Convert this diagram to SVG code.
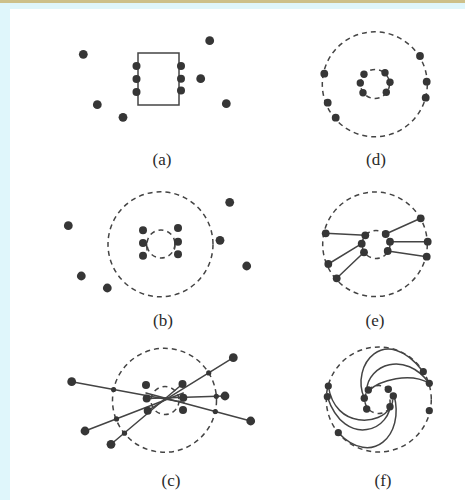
<svg xmlns="http://www.w3.org/2000/svg" width="465" height="500" viewBox="0 0 465 500">
<style>
.dash{fill:none;stroke:#444;stroke-width:1.5;stroke-dasharray:5 4}
.dot{fill:#363636}
.ln{fill:none;stroke:#444;stroke-width:1.5;stroke-linecap:round}
.lbl{font-family:"Liberation Serif","Times New Roman",serif;font-size:17px;fill:#2a2a2a;text-anchor:middle}
</style>
<rect x="0" y="0" width="465" height="500" fill="#dff6fb"/>
<rect x="0" y="0" width="465" height="3" fill="#cdc08a"/>
<rect x="10" y="9" width="455" height="491" fill="#ffffff"/>

<g id="panel-a">
  <rect x="138" y="53" width="41" height="52" fill="#fff" stroke="#444" stroke-width="1.5"/>
  <g id="a-pins" class="dot">
    <circle cx="136.5" cy="66" r="4"/><circle cx="136.5" cy="79" r="4"/><circle cx="136.5" cy="92" r="4"/>
    <circle cx="181" cy="66" r="4"/><circle cx="181" cy="78.7" r="4"/><circle cx="181" cy="90.5" r="4"/>
  </g>
  <g id="a-dots" class="dot">
    <circle cx="83.3" cy="54.3" r="4.4"/><circle cx="97.3" cy="104.7" r="4.4"/><circle cx="123" cy="117.3" r="4.4"/>
    <circle cx="209.7" cy="40.7" r="4.4"/><circle cx="200.7" cy="78.7" r="4.4"/><circle cx="226.3" cy="103.7" r="4.4"/>
  </g>
  <text class="lbl" x="162" y="165">(a)</text>
</g>

<g id="panel-d">
  <circle class="dash" cx="374.8" cy="84.3" r="52.5"/>
  <circle class="dash" cx="375" cy="84" r="14.5"/>
  <g id="d-inner" class="dot">
    <circle cx="364" cy="74.3" r="3.7"/><circle cx="385" cy="72.7" r="3.7"/><circle cx="360.3" cy="83" r="3.7"/>
    <circle cx="390" cy="82.3" r="3.7"/><circle cx="363" cy="92.7" r="3.7"/><circle cx="386.3" cy="92.3" r="3.7"/>
  </g>
  <g id="d-outer" class="dot">
    <circle cx="420" cy="56" r="3.9"/><circle cx="426.7" cy="81.7" r="3.9"/><circle cx="425.7" cy="97.7" r="3.9"/>
    <circle cx="324.3" cy="73.7" r="3.9"/><circle cx="327.7" cy="102.7" r="3.9"/><circle cx="335.7" cy="117.7" r="3.9"/>
  </g>
  <text class="lbl" x="376" y="165">(d)</text>
</g>

<g id="panel-b">
  <circle class="dash" cx="160.5" cy="244.3" r="52.5"/>
  <circle class="dash" cx="161" cy="244" r="14"/>
  <g id="b-connectors">
    <line class="ln" x1="146.5" y1="243" x2="147" y2="250"/>
    <line class="ln" x1="175" y1="242" x2="174.5" y2="249"/>
  </g>
  <g id="b-inner" class="dot">
    <circle cx="143" cy="230.3" r="4"/><circle cx="143" cy="243" r="4"/><circle cx="143" cy="255.7" r="4"/>
    <circle cx="178" cy="228" r="4"/><circle cx="178" cy="241.7" r="4"/><circle cx="178" cy="254.3" r="4"/>
  </g>
  <g id="b-outer" class="dot">
    <circle cx="68.3" cy="225.7" r="4.4"/><circle cx="81.3" cy="276" r="4.4"/><circle cx="107.3" cy="288" r="4.4"/>
    <circle cx="229.7" cy="202.3" r="4.4"/><circle cx="220" cy="240.3" r="4.4"/><circle cx="246.7" cy="266" r="4.4"/>
  </g>
  <text class="lbl" x="163" y="326">(b)</text>
</g>

<g id="panel-e">
  <circle class="dash" cx="375" cy="244.3" r="52.3"/>
  <circle class="dash" cx="376" cy="244.5" r="14"/>
  <g id="e-connectors">
    <line class="ln" x1="325.7" y1="233.3" x2="365.3" y2="235.3"/>
    <line class="ln" x1="328.3" y1="264" x2="361.7" y2="243.7"/>
    <line class="ln" x1="336.7" y1="278.3" x2="364" y2="252.3"/>
    <line class="ln" x1="385.7" y1="234" x2="420.7" y2="218.3"/>
    <line class="ln" x1="390" y1="241.7" x2="427.7" y2="241.7"/>
    <line class="ln" x1="387.7" y1="251" x2="426.7" y2="256.7"/>
  </g>
  <g id="e-dots" class="dot">
    <circle cx="325.7" cy="233.3" r="3.9"/><circle cx="365.3" cy="235.3" r="3.9"/>
    <circle cx="328.3" cy="264" r="3.9"/><circle cx="361.7" cy="243.7" r="3.9"/>
    <circle cx="336.7" cy="278.3" r="3.9"/><circle cx="364" cy="252.3" r="3.9"/>
    <circle cx="385.7" cy="234" r="3.9"/><circle cx="420.7" cy="218.3" r="3.9"/>
    <circle cx="390" cy="241.7" r="3.9"/><circle cx="427.7" cy="241.7" r="3.9"/>
    <circle cx="387.7" cy="251" r="3.9"/><circle cx="426.7" cy="256.7" r="3.9"/>
  </g>
  <text class="lbl" x="375" y="326">(e)</text>
</g>

<g id="panel-c">
  <circle class="dash" cx="164.5" cy="400.3" r="52"/>
  <circle class="dash" cx="165" cy="400.5" r="14"/>
  <g id="c-connectors">
    <line class="ln" x1="71.7" y1="381.7" x2="184" y2="402.5"/>
    <line class="ln" x1="233.3" y1="357.7" x2="147.7" y2="410.7"/>
    <line class="ln" x1="85" y1="431" x2="183.3" y2="393"/>
    <line class="ln" x1="111" y1="444.3" x2="182.5" y2="384"/>
    <line class="ln" x1="225" y1="396" x2="146.7" y2="398.5"/>
    <line class="ln" x1="250.7" y1="421" x2="146" y2="393"/>
  </g>
  <g id="c-pins" class="dot">
    <circle cx="146" cy="385" r="4"/><circle cx="182.5" cy="384" r="4"/>
    <circle cx="146.7" cy="398.5" r="4"/><circle cx="183.3" cy="397.7" r="4"/>
    <circle cx="147.7" cy="410.7" r="4"/><circle cx="183" cy="410" r="4"/>
  </g>
  <g id="c-outer" class="dot">
    <circle cx="71.7" cy="381.7" r="4.4"/><circle cx="85" cy="431" r="4.4"/><circle cx="111" cy="444.3" r="4.4"/>
    <circle cx="233.3" cy="357.7" r="4.4"/><circle cx="225" cy="396" r="4.4"/><circle cx="250.7" cy="421" r="4.4"/>
  </g>
  <g id="c-cross" class="dot">
    <circle cx="113.6" cy="389.5" r="2.6"/><circle cx="208.7" cy="372.9" r="2.6"/>
    <circle cx="116.5" cy="418.9" r="2.6"/><circle cx="124.5" cy="433.2" r="2.6"/>
    <circle cx="216.3" cy="396.3" r="2.6"/><circle cx="215.3" cy="411.5" r="2.6"/>
  </g>
  <text class="lbl" x="171" y="486">(c)</text>
</g>

<g id="panel-f">
  <circle class="dash" cx="378.8" cy="399.5" r="52.5"/>
  <circle class="dash" cx="378.7" cy="399.5" r="14"/>
  <g id="f-connectors">
    <path class="ln" d="M364.3,398.3 C350,365 385,322 423.3,371.7"/>
    <path class="ln" d="M366.7,390 C368,365 405,350 429.3,383.3"/>
    <path class="ln" d="M368.3,391 C380,380 410,372 429.3,383.3"/>
    <path class="ln" d="M394,395.3 C405,435 372,468 338.3,432.7"/>
    <path class="ln" d="M390,400 C394,430 345,450 327.3,396.7"/>
    <path class="ln" d="M390,407 C382,425 335,430 328.3,386"/>
  </g>
  <g id="f-inner" class="dot">
    <circle cx="368.3" cy="390" r="3.7"/><circle cx="388.3" cy="389.3" r="3.7"/><circle cx="364.3" cy="398.3" r="3.7"/>
    <circle cx="393.3" cy="396" r="3.7"/><circle cx="366.7" cy="409" r="3.7"/><circle cx="390" cy="406.7" r="3.7"/>
  </g>
  <g id="f-outer" class="dot">
    <circle cx="423.3" cy="371.7" r="3.6"/><circle cx="429.3" cy="383.3" r="3.6"/><circle cx="429.3" cy="410.7" r="3.6"/>
    <circle cx="328.3" cy="386" r="3.6"/><circle cx="327.3" cy="396.7" r="3.6"/><circle cx="338.3" cy="432.7" r="3.6"/>
  </g>
  <text class="lbl" x="383" y="486">(f)</text>
</g>
</svg>
